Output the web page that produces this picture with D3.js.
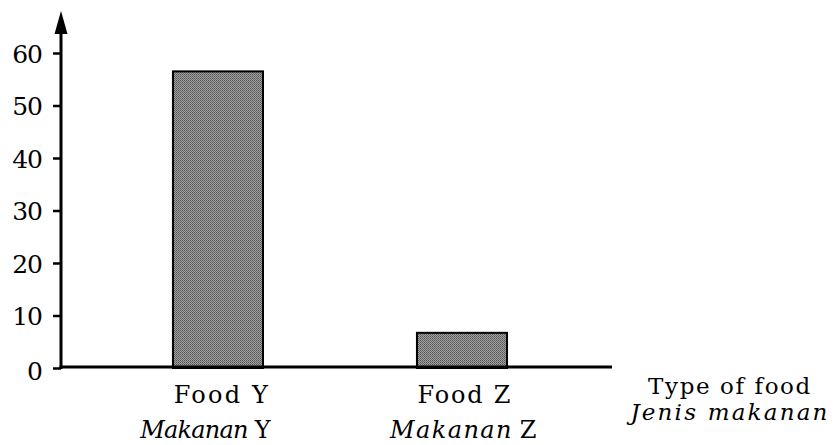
<!DOCTYPE html>
<html>
<head>
<meta charset="utf-8">
<script src="https://cdn.jsdelivr.net/npm/d3@7"></script>
<style>
  html, body { margin: 0; padding: 0; background: #fff; }
</style>
</head>
<body>
<svg id="chart" width="838" height="445"></svg>
<script>
// ---- data ----
const categories = ["Food Y", "Food Z"];
const categoryItalic = ["Makanan", "Makanan"];
const categorySuffix = ["Y", "Z"];
const values = [56.5, 6.7];
const yTicks = [0, 10, 20, 30, 40, 50, 60];
const xTitle = "Type of food";
const xTitleItalic = "Jenis makanan";

// ---- drawing ----
const FONT = "'DejaVu Serif', serif";
const svg = d3.select("#chart");
const W = 838, H = 445;
svg.append("rect").attr("width", W).attr("height", H).attr("fill", "#fff");

const x0 = 61, x1 = 612, yBase = 368, yTop = 53;
const x = d3.scaleBand().domain(categories).range([x0, x1])
  .paddingInner(0.631).paddingOuter(0.4446).align(0.516);
const y = d3.scaleLinear().domain([0, 60]).range([yBase, yTop]);

// halftone-like pattern
const defs = svg.append("defs");
const pat = defs.append("pattern").attr("id", "dots")
  .attr("patternUnits", "userSpaceOnUse").attr("width", 2).attr("height", 2);
pat.append("rect").attr("width", 2).attr("height", 2).attr("fill", "#a0a0a0");
pat.append("rect").attr("width", 1).attr("height", 1).attr("fill", "#555");
pat.append("rect").attr("x", 1).attr("y", 1).attr("width", 1).attr("height", 1).attr("fill", "#6a6a6a");

// bars
svg.selectAll("rect.bar").data(values).join("rect")
  .attr("class", "bar")
  .attr("x", (d, i) => x(categories[i]))
  .attr("y", d => y(d))
  .attr("width", x.bandwidth())
  .attr("height", d => y(0) - y(d))
  .attr("fill", "url(#dots)")
  .attr("stroke", "#000")
  .attr("stroke-width", 2);

// y axis line + arrow
svg.append("line").attr("x1", x0).attr("x2", x0).attr("y1", yBase + 1).attr("y2", 30)
  .attr("stroke", "#000").attr("stroke-width", 3);
svg.append("path").attr("d", `M${x0},11 L${x0 - 6.5},34 L${x0 + 6.5},34 Z`).attr("fill", "#000");

// x axis line
svg.append("line").attr("x1", x0 - 1.5).attr("x2", x1).attr("y1", yBase - 1).attr("y2", yBase - 1)
  .attr("stroke", "#000").attr("stroke-width", 3);

// y ticks
const yAxis = d3.axisLeft(y).tickValues(yTicks).tickSize(8).tickPadding(11);
const gy = svg.append("g").attr("transform", `translate(${x0},0)`).call(yAxis)
  .attr("font-family", FONT).attr("font-size", 25);
gy.select(".domain").remove();
gy.selectAll(".tick line").attr("stroke", "#000").attr("stroke-width", 2.5);
gy.selectAll(".tick text")
  .attr("fill", "#000")
  .style("font-family", FONT)
  .style("letter-spacing", "-1px")
  .attr("dy", (d) => d === 0 ? "0.45em" : "0.36em");

// x category labels
const fontSize = 24;
const labelDx = [4, 3];
const italDx = [-13, 2];
const topSpacing = [2.2, 1.8];
const botSpacing = [-0.8, 1.4];
categories.forEach((c, i) => {
  const cx = x(c) + x.bandwidth() / 2;
  svg.append("text").attr("x", cx + labelDx[i]).attr("y", 403)
    .attr("text-anchor", "middle")
    .style("font-family", FONT)
    .attr("font-size", fontSize)
    .style("letter-spacing", topSpacing[i] + "px")
    .text(c);
  const t = svg.append("text").attr("x", cx + italDx[i]).attr("y", 438)
    .attr("text-anchor", "middle")
    .style("font-family", FONT)
    .attr("font-size", fontSize)
    .style("letter-spacing", botSpacing[i] + "px");
  t.append("tspan").attr("font-style", "italic").text(categoryItalic[i]);
  t.append("tspan").attr("dx", 7).text(categorySuffix[i]);
});

// x title
svg.append("text").attr("x", 730).attr("y", 394).attr("text-anchor", "middle")
  .style("font-family", FONT).attr("font-size", 23)
  .style("letter-spacing", "1.6px").text(xTitle);
svg.append("text").attr("x", 730).attr("y", 420).attr("text-anchor", "middle")
  .style("font-family", FONT).attr("font-size", 23).attr("font-style", "italic")
  .style("letter-spacing", "2.2px")
  .text(xTitleItalic);
</script>
</body>
</html>
